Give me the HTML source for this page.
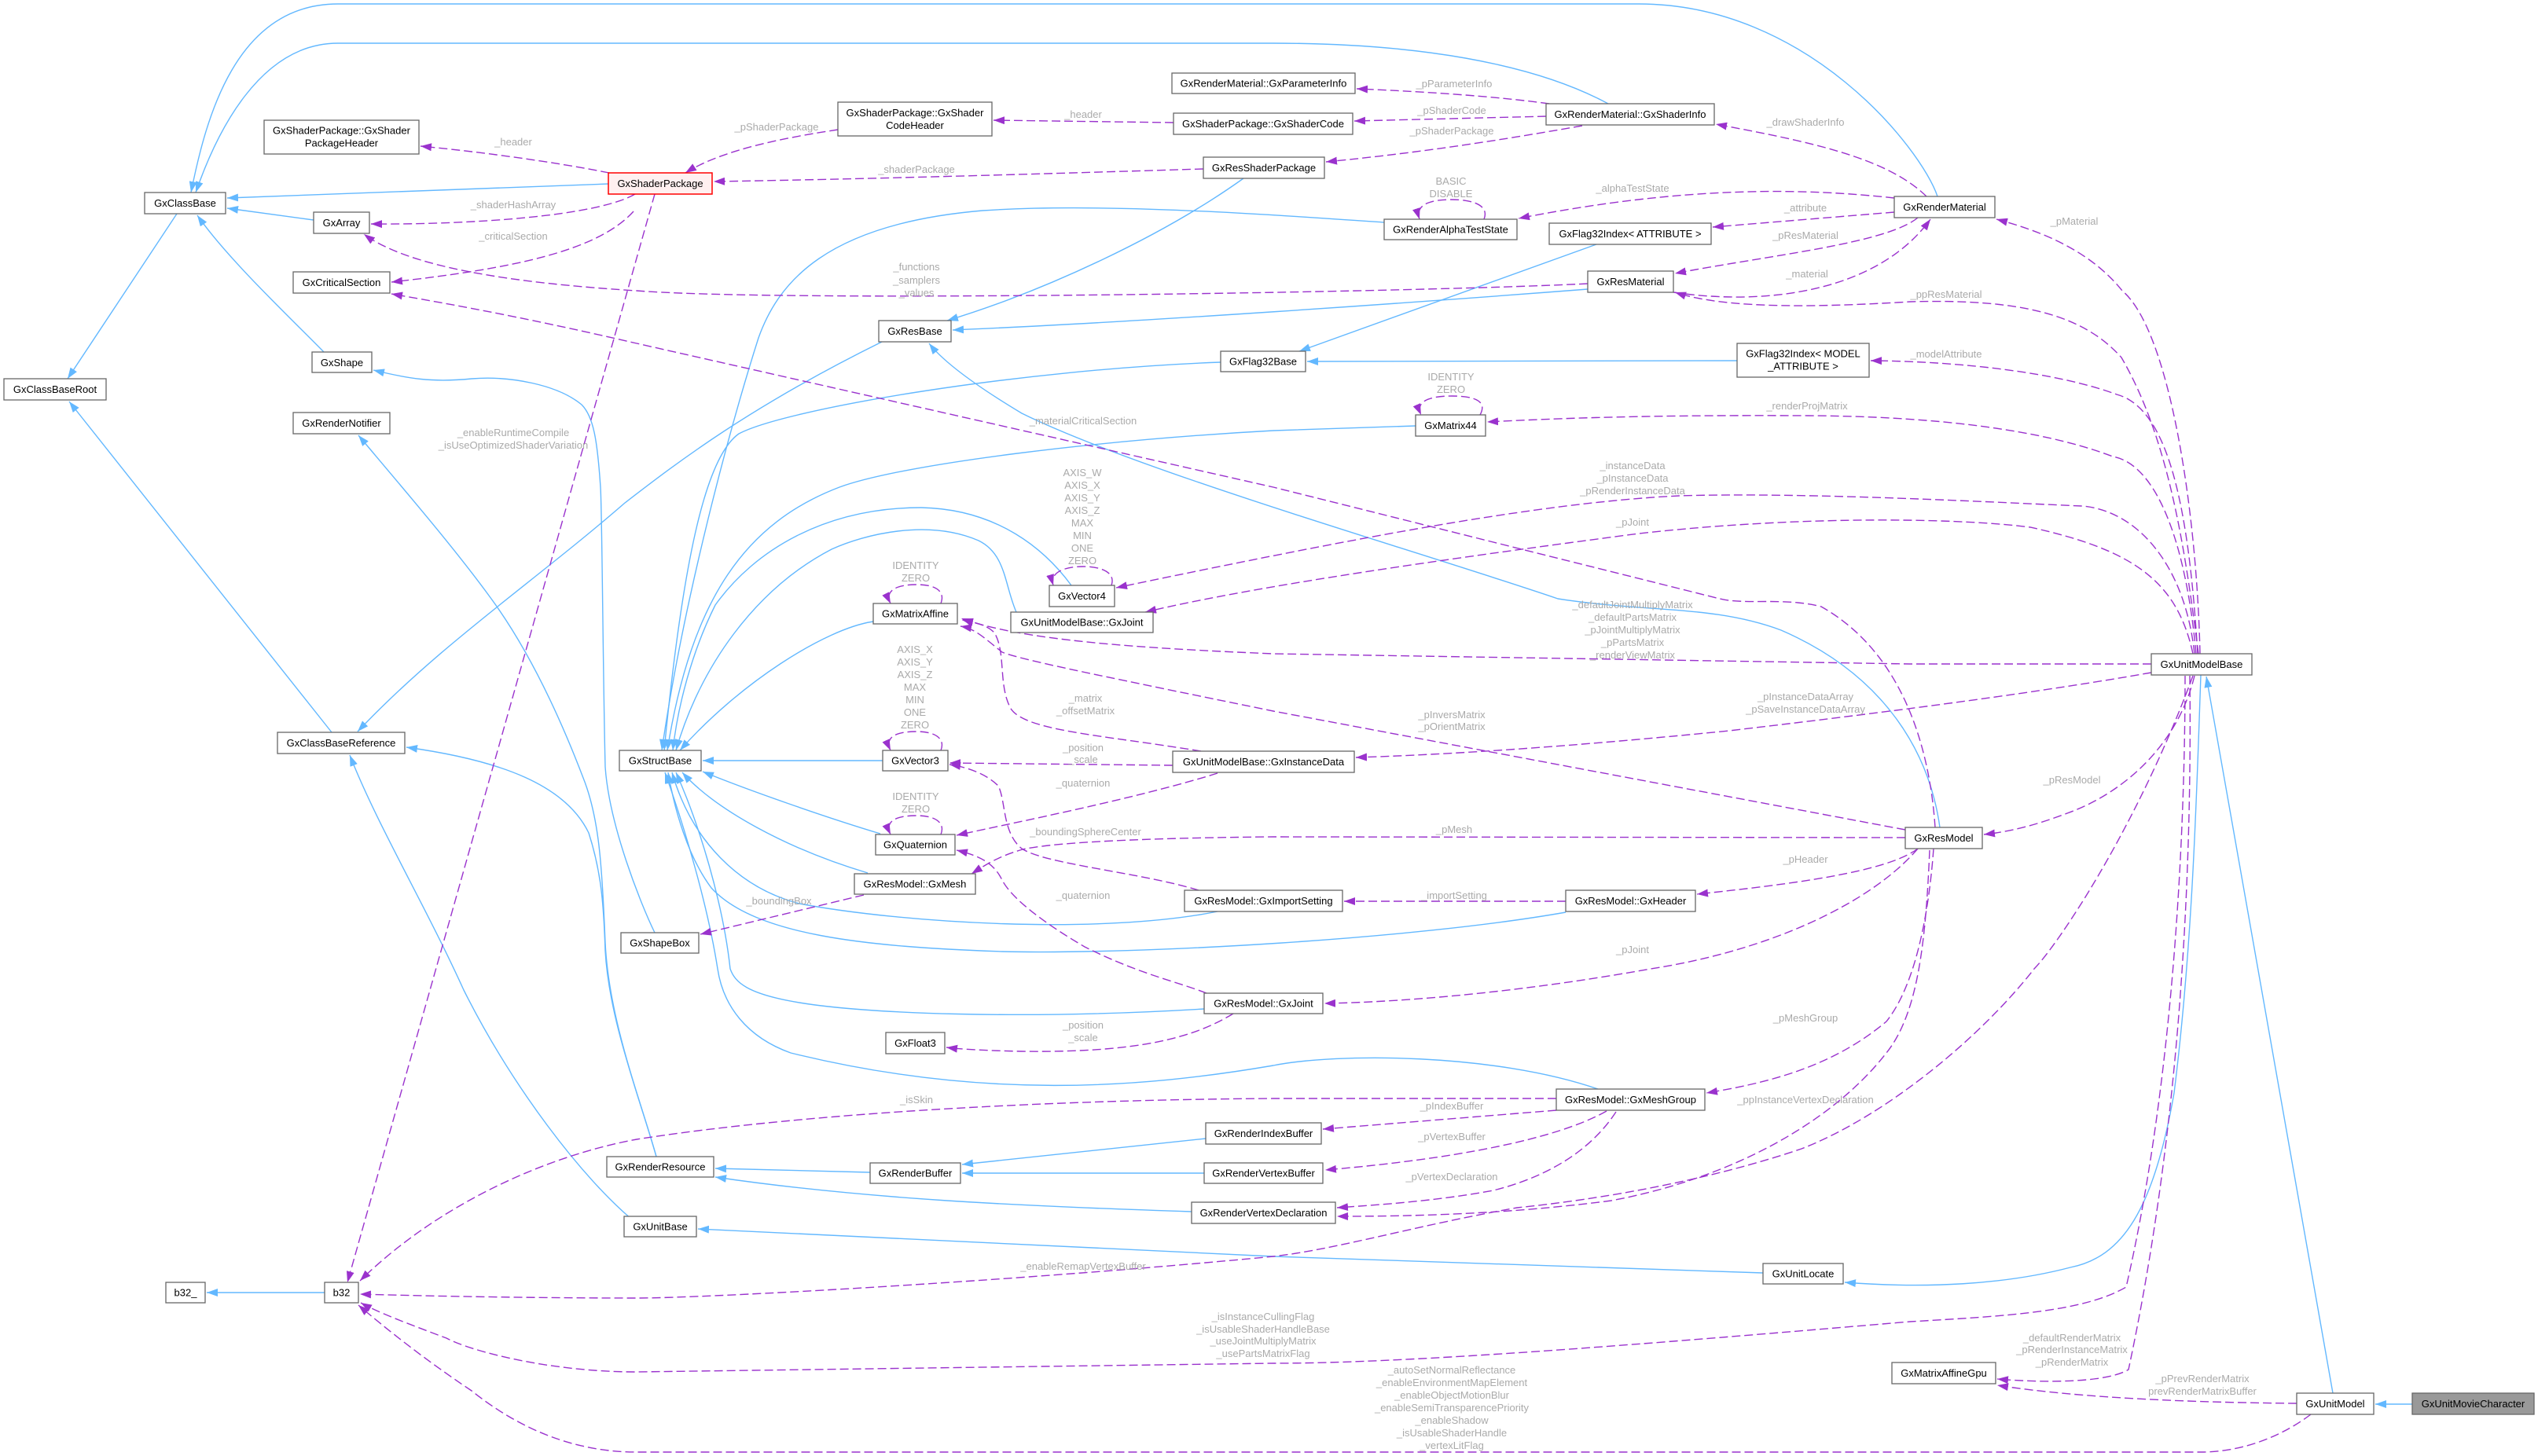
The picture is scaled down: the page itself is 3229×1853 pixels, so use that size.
<!DOCTYPE html>
<html><head><meta charset="utf-8"><style>
html,body{margin:0;padding:0;background:#fff;}
svg{display:block;}
text{font-family:"Liberation Sans",Arial,sans-serif;}
.n{font-size:13px;fill:#000;text-anchor:middle;}
.l{font-size:13px;fill:#aaaaaa;text-anchor:middle;}
.b{fill:none;stroke:#63b8ff;stroke-width:1.4;marker-end:url(#ab);}
.p{fill:none;stroke:#9a32cd;stroke-width:1.4;stroke-dasharray:11,5;marker-end:url(#ap);}
.r{fill:#fff;stroke:#666;stroke-width:1.3;}
</style></head><body>
<svg width="3229" height="1853" viewBox="0 0 3229 1853" xmlns="http://www.w3.org/2000/svg">
<defs>
<marker id="ab" viewBox="0 0 14 10" refX="14" refY="5" markerWidth="14" markerHeight="10" orient="auto" markerUnits="userSpaceOnUse"><path d="M0,0 L14,5 L0,10 z" fill="#63b8ff"/></marker>
<marker id="ap" viewBox="0 0 14 10" refX="14" refY="5" markerWidth="14" markerHeight="10" orient="auto" markerUnits="userSpaceOnUse"><path d="M0,0 L14,5 L0,10 z" fill="#9a32cd"/></marker>
</defs>
<rect width="3229" height="1853" fill="#fff"/>

<!-- blue inheritance edges -->
<path class="b" d="M2465,250 C2445,190 2300,5 2085,5 L430,5 C300,5 262,150 243,245"/>
<path class="b" d="M2046,132 C1950,80 1800,55 1620,55 L430,55 C330,55 275,170 249,245"/>
<path class="b" d="M774,234 L289,252"/>
<path class="b" d="M399,280 L289,265"/>
<path class="b" d="M412,448 C370,405 290,330 251,274"/>
<path class="b" d="M225,272 L86,482"/>
<path class="b" d="M422,932 L88,511"/>
<path class="b" d="M1582,227 C1480,300 1330,370 1205,408"/>
<path class="b" d="M2020,368 C1800,385 1450,410 1212,420"/>
<path class="b" d="M1122,435 C950,520 860,590 795,640 C680,740 560,820 455,931"/>
<path class="b" d="M2468,1053 C2455,960 2400,860 2266,802 C2180,770 2100,780 1982,762 C1800,700 1450,600 1300,526 C1240,490 1200,460 1182,437"/>
<path class="b" d="M2031,311 L1653,447"/>
<path class="b" d="M2210,459 L1663,460"/>
<path class="b" d="M1553,461 C1300,470 1000,520 940,552 C900,580 870,700 845,955"/>
<path class="b" d="M1761,283 C1600,272 1400,258 1250,268 C1050,285 990,360 965,430 C930,540 870,760 842,955"/>
<path class="b" d="M1801,542 L1620,548 C1400,560 1150,590 1068,620 C950,665 880,760 849,955"/>
<path class="b" d="M1363,745 C1330,700 1270,648 1172,646 C1050,646 960,700 910,770 C880,830 862,900 856,955"/>
<path class="b" d="M1293,779 C1278,745 1280,705 1245,688 C1180,660 1100,680 1058,699 C960,750 890,850 860,955"/>
<path class="b" d="M1111,791 C1050,800 940,870 865,955"/>
<path class="b" d="M1123,968 L894,968"/>
<path class="b" d="M1120,1061 C1050,1040 950,1005 894,982"/>
<path class="b" d="M1104,1111 C1000,1080 910,1030 868,983"/>
<path class="b" d="M1549,1160 C1400,1190 1150,1175 1017,1150 C940,1130 880,1070 855,983"/>
<path class="b" d="M1992,1161 C1800,1195 1450,1215 1275,1211 C1100,1205 960,1190 905,1130 C875,1090 858,1030 850,983"/>
<path class="b" d="M1532,1284 C1300,1298 1100,1290 1017,1276 C950,1265 935,1250 929,1233 C920,1150 890,1050 860,983"/>
<path class="b" d="M2033,1386 C1900,1340 1700,1340 1620,1356 C1450,1385 1250,1400 1006,1340 C950,1320 920,1280 913,1233 C900,1150 870,1050 846,983"/>
<path class="b" d="M833,1187 C815,1150 775,1050 770,976 C767,850 766,650 764,620 C760,560 755,530 740,515 C710,490 650,478 600,482 C550,487 520,482 475,471"/>
<path class="b" d="M835,1472 C815,1400 775,1300 770,1200 C766,1100 762,1040 742,990 C700,880 660,810 625,762 C580,700 520,630 456,554"/>
<path class="b" d="M835,1472 C815,1400 775,1300 770,1210 C768,1150 765,1110 749,1060 C720,1000 640,968 517,951"/>
<path class="b" d="M810,1557 C740,1500 650,1380 590,1260 C540,1150 480,1050 445,961"/>
<path class="b" d="M413,1645 L263,1645"/>
<path class="b" d="M1534,1449 L1224,1482"/>
<path class="b" d="M1532,1493 L1224,1493"/>
<path class="b" d="M1107,1492 L910,1487"/>
<path class="b" d="M1516,1542 C1300,1535 1100,1526 910,1498"/>
<path class="b" d="M2243,1620 C2000,1612 1800,1605 1620,1599 L888,1564"/>
<path class="b" d="M2800,859 C2795,1000 2790,1200 2766,1391 C2740,1540 2700,1600 2634,1613 C2550,1635 2450,1640 2347,1632"/>
<path class="b" d="M2968,1773 L2807,861"/>
<path class="b" d="M3069,1787 L3022,1787"/>

<!-- purple dashed edges -->
<path class="p" d="M775,220 C700,205 600,192 535,186"/>
<path class="p" d="M808,247 C760,275 600,286 472,285"/>
<path class="p" d="M806,269 C760,320 650,342 498,359"/>
<path class="p" d="M2020,361 C1800,372 1000,385 810,370 C650,360 520,340 463,298"/>
<path class="p" d="M2462,1053 C2455,950 2420,830 2317,772 C2270,760 2220,770 2188,762 L1620,620 L810,437 C650,400 560,385 498,374"/>
<path class="p" d="M833,247 L442,1632"/>
<path class="p" d="M1066,165 C1000,175 920,190 872,220"/>
<path class="p" d="M1493,156 L1264,153"/>
<path class="p" d="M1531,215 C1300,222 1100,228 908,231"/>
<path class="p" d="M1971,132 C1900,122 1800,116 1726,113"/>
<path class="p" d="M1967,148 L1723,154"/>
<path class="p" d="M2013,160 C1900,180 1800,195 1687,206"/>
<path class="p" d="M2451,250 C2400,200 2300,180 2183,158"/>
<path class="p" d="M2410,252 C2300,240 2150,235 1932,278"/>
<path class="p" d="M2410,270 L2179,289"/>
<path class="p" d="M2440,277 C2400,310 2250,325 2131,348"/>
<path class="p" d="M2129,372 C2250,390 2390,370 2456,279"/>
<path class="p" d="M2797,832 C2780,700 2760,560 2699,455 C2650,400 2570,380 2430,384 C2330,390 2200,395 2131,372"/>
<path class="p" d="M2799,832 C2795,650 2760,420 2700,370 C2660,320 2600,295 2540,279"/>
<path class="p" d="M2796,832 C2785,650 2760,520 2693,502 C2620,475 2500,460 2380,459"/>
<path class="p" d="M2794,832 C2780,680 2740,590 2688,581 C2620,555 2500,530 2300,529 C2100,528 1990,532 1892,537"/>
<path class="p" d="M2792,832 C2780,720 2720,650 2649,644 C2550,640 2300,626 2136,631 C1950,640 1700,690 1420,748"/>
<path class="p" d="M2790,832 C2770,740 2715,700 2583,671 C2500,660 2300,655 2085,679 C1850,710 1600,745 1457,779"/>
<path class="p" d="M2737,845 L2430,845 L1620,832 C1450,825 1300,815 1223,787"/>
<path class="p" d="M2737,856 C2600,880 2430,903 2200,930 C2000,950 1850,960 1725,964"/>
<path class="p" d="M2424,1056 L1620,905 C1400,860 1300,840 1275,830 C1250,810 1240,800 1222,797"/>
<path class="p" d="M1528,956 C1400,935 1300,930 1285,900 C1270,870 1280,830 1265,805 C1255,795 1240,792 1224,789"/>
<path class="p" d="M1492,974 L1208,971"/>
<path class="p" d="M1549,984 C1450,1015 1300,1045 1217,1063"/>
<path class="p" d="M2424,1066 L1620,1065 C1500,1066 1350,1070 1301,1081 C1270,1090 1255,1100 1236,1112"/>
<path class="p" d="M2440,1080 C2400,1110 2280,1125 2159,1138"/>
<path class="p" d="M1992,1147 L1710,1147"/>
<path class="p" d="M1525,1133 C1450,1110 1330,1100 1300,1080 C1275,1060 1280,1020 1270,1000 C1255,985 1230,976 1208,973"/>
<path class="p" d="M1535,1264 C1500,1250 1450,1240 1380,1205 C1320,1170 1285,1140 1275,1120 C1265,1100 1250,1090 1217,1082"/>
<path class="p" d="M1099,1139 L891,1189"/>
<path class="p" d="M1569,1290 C1520,1320 1450,1340 1300,1338 C1250,1337 1220,1335 1204,1333"/>
<path class="p" d="M2440,1080 C2380,1150 2250,1210 2100,1233 C1950,1260 1800,1275 1685,1277"/>
<path class="p" d="M2460,1080 C2455,1150 2440,1250 2400,1300 C2340,1350 2270,1375 2171,1391"/>
<path class="p" d="M1980,1398 L1620,1398 C1300,1400 1000,1420 810,1450 C700,1470 560,1530 458,1630"/>
<path class="p" d="M1980,1413 L1683,1437"/>
<path class="p" d="M2044,1414 C1980,1450 1850,1475 1686,1489"/>
<path class="p" d="M2056,1415 C2020,1470 1960,1500 1900,1515 C1830,1528 1760,1533 1701,1537"/>
<path class="p" d="M2455,1082 C2450,1200 2440,1290 2400,1340 C2330,1430 2200,1500 2050,1528 C1920,1545 1800,1548 1701,1548"/>
<path class="p" d="M2790,860 C2720,1050 2620,1200 2588,1233 C2520,1320 2400,1420 2292,1462 C2150,1510 2000,1530 1930,1537 C1800,1560 1700,1590 1620,1599 C1300,1630 900,1652 810,1652 C700,1652 560,1650 458,1647"/>
<path class="p" d="M2780,860 C2780,1100 2760,1400 2705,1638 C2650,1670 2550,1675 2430,1682 C2100,1710 1800,1735 1620,1735 L810,1746 C700,1746 600,1720 568,1703 C520,1685 480,1670 459,1658"/>
<path class="p" d="M2786,860 C2790,1200 2760,1500 2708,1743 C2680,1760 2600,1760 2541,1755"/>
<path class="p" d="M2922,1786 C2800,1785 2650,1780 2541,1763"/>
<path class="p" d="M2940,1800 C2900,1830 2850,1848 2800,1848 L810,1848 C720,1848 650,1810 600,1770 C540,1730 490,1690 456,1661"/>
<path class="p" d="M2792,860 C2770,950 2700,1010 2630,1035 C2590,1050 2560,1058 2524,1062"/>

<!-- self loops -->
<path class="p" d="M1888,279 C1895,262 1875,254 1847,254 C1820,254 1800,260 1806,279"/>
<path class="p" d="M1883,528 C1893,510 1875,504 1847,504 C1820,504 1800,510 1808,528"/>
<path class="p" d="M1197,768 C1203,752 1190,744 1166,744 C1140,744 1125,752 1133,768"/>
<path class="p" d="M1414,745 C1420,728 1400,721 1378,721 C1355,721 1335,728 1340,745"/>
<path class="p" d="M1197,955 C1203,940 1190,931 1166,931 C1140,931 1125,938 1133,955"/>
<path class="p" d="M1197,1062 C1203,1047 1190,1038 1166,1038 C1140,1038 1125,1045 1133,1062"/>

<!-- nodes -->
<rect class="r" x="184" y="245" width="103" height="27"/><text class="n" x="235.5" y="263">GxClassBase</text>
<rect class="r" x="336" y="153" width="197" height="43"/><text class="n" x="434.5" y="170.5">GxShaderPackage::GxShader</text><text class="n" x="434.5" y="186.5">PackageHeader</text>
<rect x="774" y="220" width="132" height="27" fill="#fff0f0" stroke="#ff0000" stroke-width="1.5"/><text class="n" x="840" y="238">GxShaderPackage</text>
<rect class="r" x="399" y="270" width="71" height="27"/><text class="n" x="434.5" y="288">GxArray</text>
<rect class="r" x="373" y="346" width="123" height="27"/><text class="n" x="434.5" y="364">GxCriticalSection</text>
<rect class="r" x="397" y="448" width="76" height="26"/><text class="n" x="435" y="466">GxShape</text>
<rect class="r" x="5" y="482" width="130" height="27"/><text class="n" x="70" y="500">GxClassBaseRoot</text>
<rect class="r" x="373" y="525" width="123" height="27"/><text class="n" x="434.5" y="543">GxRenderNotifier</text>
<rect class="r" x="1066" y="130" width="196" height="43"/><text class="n" x="1164" y="148">GxShaderPackage::GxShader</text><text class="n" x="1164" y="164">CodeHeader</text>
<rect class="r" x="1491" y="93" width="233" height="26"/><text class="n" x="1607.5" y="110.5">GxRenderMaterial::GxParameterInfo</text>
<rect class="r" x="1493" y="144" width="228" height="27"/><text class="n" x="1607" y="162">GxShaderPackage::GxShaderCode</text>
<rect class="r" x="1531" y="200" width="154" height="27"/><text class="n" x="1608" y="218">GxResShaderPackage</text>
<rect class="r" x="1118" y="408" width="92" height="27"/><text class="n" x="1164" y="426">GxResBase</text>
<rect class="r" x="1553" y="447" width="108" height="26"/><text class="n" x="1607" y="464.5">GxFlag32Base</text>
<rect class="r" x="1967" y="132" width="214" height="27"/><text class="n" x="2074" y="150">GxRenderMaterial::GxShaderInfo</text>
<rect class="r" x="1761" y="279" width="169" height="26"/><text class="n" x="1845.5" y="296.5">GxRenderAlphaTestState</text>
<rect class="r" x="1971" y="284" width="206" height="27"/><text class="n" x="2074" y="302">GxFlag32Index&lt; ATTRIBUTE &gt;</text>
<rect class="r" x="2020" y="345" width="109" height="27"/><text class="n" x="2074.5" y="363">GxResMaterial</text>
<rect class="r" x="2210" y="437" width="168" height="43"/><text class="n" x="2294" y="454.5">GxFlag32Index&lt; MODEL</text><text class="n" x="2294" y="470.5">_ATTRIBUTE &gt;</text>
<rect class="r" x="1801" y="528" width="89" height="27"/><text class="n" x="1845.5" y="546">GxMatrix44</text>
<rect class="r" x="2410" y="250" width="128" height="27"/><text class="n" x="2474" y="268">GxRenderMaterial</text>
<rect class="r" x="2737" y="832" width="128" height="27"/><text class="n" x="2801" y="850">GxUnitModelBase</text>
<rect class="r" x="2424" y="1053" width="98" height="27"/><text class="n" x="2473" y="1071">GxResModel</text>
<rect class="r" x="1492" y="956" width="231" height="27"/><text class="n" x="1607.5" y="974">GxUnitModelBase::GxInstanceData</text>
<rect class="r" x="1992" y="1133" width="165" height="27"/><text class="n" x="2074.5" y="1151">GxResModel::GxHeader</text>
<rect class="r" x="1507" y="1133" width="201" height="27"/><text class="n" x="1607.5" y="1151">GxResModel::GxImportSetting</text>
<rect class="r" x="353" y="932" width="162" height="27"/><text class="n" x="434" y="950">GxClassBaseReference</text>
<rect class="r" x="788" y="955" width="104" height="26"/><text class="n" x="840" y="972.5">GxStructBase</text>
<rect class="r" x="790" y="1187" width="99" height="26"/><text class="n" x="839.5" y="1204.5">GxShapeBox</text>
<rect class="r" x="1111" y="768" width="107" height="26"/><text class="n" x="1164.5" y="785.5">GxMatrixAffine</text>
<rect class="r" x="1335" y="745" width="83" height="27"/><text class="n" x="1376.5" y="763">GxVector4</text>
<rect class="r" x="1286" y="779" width="181" height="26"/><text class="n" x="1376.5" y="796.5">GxUnitModelBase::GxJoint</text>
<rect class="r" x="1123" y="955" width="83" height="26"/><text class="n" x="1164.5" y="972.5">GxVector3</text>
<rect class="r" x="1114" y="1062" width="101" height="26"/><text class="n" x="1164.5" y="1079.5">GxQuaternion</text>
<rect class="r" x="1087" y="1112" width="154" height="26"/><text class="n" x="1164" y="1129.5">GxResModel::GxMesh</text>
<rect class="r" x="413" y="1632" width="43" height="26"/><text class="n" x="434.5" y="1649.5">b32</text>
<rect class="r" x="211" y="1632" width="50" height="26"/><text class="n" x="236" y="1649.5">b32_</text>
<rect class="r" x="794" y="1548" width="92" height="26"/><text class="n" x="840" y="1565.5">GxUnitBase</text>
<rect class="r" x="772" y="1472" width="136" height="26"/><text class="n" x="840" y="1489.5">GxRenderResource</text>
<rect class="r" x="1532" y="1264" width="151" height="26"/><text class="n" x="1607.5" y="1281.5">GxResModel::GxJoint</text>
<rect class="r" x="1127" y="1314" width="75" height="27"/><text class="n" x="1164.5" y="1332">GxFloat3</text>
<rect class="r" x="1534" y="1429" width="147" height="27"/><text class="n" x="1607.5" y="1447">GxRenderIndexBuffer</text>
<rect class="r" x="1107" y="1480" width="115" height="26"/><text class="n" x="1164.5" y="1497.5">GxRenderBuffer</text>
<rect class="r" x="1532" y="1480" width="151" height="26"/><text class="n" x="1607.5" y="1497.5">GxRenderVertexBuffer</text>
<rect class="r" x="1516" y="1530" width="183" height="27"/><text class="n" x="1607.5" y="1548">GxRenderVertexDeclaration</text>
<rect class="r" x="1980" y="1386" width="189" height="27"/><text class="n" x="2074.5" y="1404">GxResModel::GxMeshGroup</text>
<rect class="r" x="2243" y="1608" width="102" height="26"/><text class="n" x="2294" y="1625.5">GxUnitLocate</text>
<rect class="r" x="2407" y="1734" width="132" height="27"/><text class="n" x="2473" y="1752">GxMatrixAffineGpu</text>
<rect class="r" x="2922" y="1773" width="98" height="27"/><text class="n" x="2971" y="1791">GxUnitModel</text>
<rect x="3069" y="1773" width="155" height="27" fill="#999999" stroke="#666" stroke-width="1.3"/><text class="n" x="3146.5" y="1791">GxUnitMovieCharacter</text>

<!-- edge labels -->
<g class="l">
<text class="l" x="653" y="185">_header</text>
<text class="l" x="653" y="265">_shaderHashArray</text>
<text class="l" x="653" y="305">_criticalSection</text>
<text class="l" x="653" y="555">_enableRuntimeCompile</text>
<text class="l" x="653" y="571">_isUseOptimizedShaderVariation</text>
<text class="l" x="988" y="166">_pShaderPackage</text>
<text class="l" x="1378" y="150">_header</text>
<text class="l" x="1166" y="220">_shaderPackage</text>
<text class="l" x="1166" y="344">_functions</text>
<text class="l" x="1166" y="361">_samplers</text>
<text class="l" x="1166" y="377">_values</text>
<text class="l" x="1378" y="540">_materialCriticalSection</text>
<text class="l" x="1850" y="111">_pParameterInfo</text>
<text class="l" x="1847" y="145">_pShaderCode</text>
<text class="l" x="1847" y="171">_pShaderPackage</text>
<text class="l" x="1846" y="235">BASIC</text>
<text class="l" x="1846" y="251">DISABLE</text>
<text class="l" x="2077" y="244">_alphaTestState</text>
<text class="l" x="2297" y="160">_drawShaderInfo</text>
<text class="l" x="2297" y="269">_attribute</text>
<text class="l" x="2297" y="304">_pResMaterial</text>
<text class="l" x="2299" y="353">_material</text>
<text class="l" x="2639" y="286">_pMaterial</text>
<text class="l" x="2476" y="379">_ppResMaterial</text>
<text class="l" x="2476" y="455">_modelAttribute</text>
<text class="l" x="1846" y="484">IDENTITY</text>
<text class="l" x="1846" y="500">ZERO</text>
<text class="l" x="2299" y="521">_renderProjMatrix</text>
<text class="l" x="2077" y="597">_instanceData</text>
<text class="l" x="2077" y="613">_pInstanceData</text>
<text class="l" x="2077" y="629">_pRenderInstanceData</text>
<text class="l" x="2077" y="669">_pJoint</text>
<text class="l" x="1377" y="606">AXIS_W</text>
<text class="l" x="1377" y="622">AXIS_X</text>
<text class="l" x="1377" y="638">AXIS_Y</text>
<text class="l" x="1377" y="654">AXIS_Z</text>
<text class="l" x="1377" y="670">MAX</text>
<text class="l" x="1377" y="686">MIN</text>
<text class="l" x="1377" y="702">ONE</text>
<text class="l" x="1377" y="718">ZERO</text>
<text class="l" x="1165" y="724">IDENTITY</text>
<text class="l" x="1165" y="740">ZERO</text>
<text class="l" x="2077" y="774">_defaultJointMultiplyMatrix</text>
<text class="l" x="2077" y="790">_defaultPartsMatrix</text>
<text class="l" x="2077" y="806">_pJointMultiplyMatrix</text>
<text class="l" x="2077" y="822">_pPartsMatrix</text>
<text class="l" x="2077" y="838">_renderViewMatrix</text>
<text class="l" x="1164" y="831">AXIS_X</text>
<text class="l" x="1164" y="847">AXIS_Y</text>
<text class="l" x="1164" y="863">AXIS_Z</text>
<text class="l" x="1164" y="879">MAX</text>
<text class="l" x="1164" y="895">MIN</text>
<text class="l" x="1164" y="911">ONE</text>
<text class="l" x="1164" y="927">ZERO</text>
<text class="l" x="1381" y="893">_matrix</text>
<text class="l" x="1381" y="909">_offsetMatrix</text>
<text class="l" x="2297" y="891">_pInstanceDataArray</text>
<text class="l" x="2297" y="907">_pSaveInstanceDataArray</text>
<text class="l" x="1847" y="914">_pInversMatrix</text>
<text class="l" x="1847" y="929">_pOrientMatrix</text>
<text class="l" x="1378" y="956">_position</text>
<text class="l" x="1378" y="971">_scale</text>
<text class="l" x="1378" y="1001">_quaternion</text>
<text class="l" x="2636" y="997">_pResModel</text>
<text class="l" x="1165" y="1018">IDENTITY</text>
<text class="l" x="1165" y="1034">ZERO</text>
<text class="l" x="1850" y="1060">_pMesh</text>
<text class="l" x="1381" y="1063">_boundingSphereCenter</text>
<text class="l" x="2297" y="1098">_pHeader</text>
<text class="l" x="1850" y="1144">_importSetting</text>
<text class="l" x="1378" y="1144">_quaternion</text>
<text class="l" x="991" y="1151">_boundingBox</text>
<text class="l" x="2077" y="1213">_pJoint</text>
<text class="l" x="2297" y="1300">_pMeshGroup</text>
<text class="l" x="1378" y="1309">_position</text>
<text class="l" x="1378" y="1325">_scale</text>
<text class="l" x="1166" y="1404">_isSkin</text>
<text class="l" x="2297" y="1404">_ppInstanceVertexDeclaration</text>
<text class="l" x="1847" y="1412">_pIndexBuffer</text>
<text class="l" x="1847" y="1451">_pVertexBuffer</text>
<text class="l" x="1847" y="1502">_pVertexDeclaration</text>
<text class="l" x="1378" y="1616">_enableRemapVertexBuffer</text>
<text class="l" x="1607" y="1680">_isInstanceCullingFlag</text>
<text class="l" x="1607" y="1696">_isUsableShaderHandleBase</text>
<text class="l" x="1607" y="1711">_useJointMultiplyMatrix</text>
<text class="l" x="1607" y="1727">_usePartsMatrixFlag</text>
<text class="l" x="1847" y="1748">_autoSetNormalReflectance</text>
<text class="l" x="1847" y="1764">_enableEnvironmentMapElement</text>
<text class="l" x="1847" y="1780">_enableObjectMotionBlur</text>
<text class="l" x="1847" y="1796">_enableSemiTransparencePriority</text>
<text class="l" x="1847" y="1812">_enableShadow</text>
<text class="l" x="1847" y="1828">_isUsableShaderHandle</text>
<text class="l" x="1847" y="1844">_vertexLitFlag</text>
<text class="l" x="2636" y="1707">_defaultRenderMatrix</text>
<text class="l" x="2636" y="1722">_pRenderInstanceMatrix</text>
<text class="l" x="2636" y="1738">_pRenderMatrix</text>
<text class="l" x="2802" y="1759">_pPrevRenderMatrix</text>
<text class="l" x="2802" y="1775">prevRenderMatrixBuffer</text>
</g>
</svg>
</body></html>
